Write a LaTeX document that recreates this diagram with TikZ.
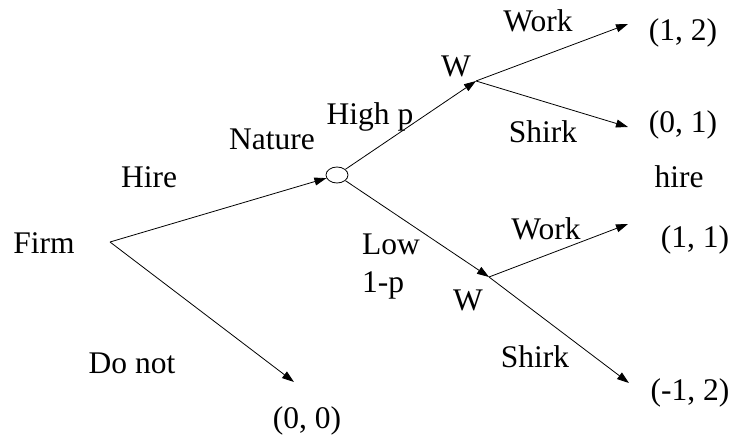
\documentclass[tikz,border=0pt]{standalone}
\usepackage{fontspec}
\setmainfont{Liberation Serif}
\usetikzlibrary{shapes.geometric, arrows.meta, positioning}

\begin{document}
\begin{tikzpicture}[x=1pt,y=-1pt,font=\fontsize{31.5}{38}\selectfont,
  branch/.style={-{Triangle[length=12pt,width=8pt]},line width=0.8pt},
  lbl/.style={inner sep=0pt}]
  \useasboundingbox (0,0) rectangle (734,439);
  % decision points
  \coordinate (firm) at (110,242);
  \node[draw,ellipse,minimum width=22pt,minimum height=16pt,inner sep=0pt,line width=0.8pt] (nature) at (337,175) {};
  \coordinate (whigh) at (476,81);
  \coordinate (wlow) at (489,277);
  % arrow tips
  \coordinate (tdonot) at (294,382);
  \coordinate (thw) at (628,24);
  \coordinate (ths) at (628,127);
  \coordinate (tlw) at (628,224);
  \coordinate (tls) at (629,383);
  % player labels
  \node[lbl] (firmlbl) at (44,243) {Firm};
  \node[lbl] (naturelbl) at (272,139) {Nature};
  \node[lbl] (whighlbl) at (456,66) {W};
  \node[lbl] (wlowlbl) at (468,300) {W};
  % move labels
  \node[lbl] (hire) at (149,177) {Hire};
  \node[lbl] (donot) at (132,363) {Do not};
  \node[lbl] (highp) at (370,117) {High p};
  \node[lbl,align=left,anchor=west] (lowp) at (362,267) {Low\\1-p};
  \node[lbl] (hwork) at (538,21) {Work};
  \node[lbl] (hshirk) at (543,132) {Shirk};
  \node[lbl] (lwork) at (546,229) {Work};
  \node[lbl] (lshirk) at (535,357) {Shirk};
  \node[lbl] (hirenote) at (679,177) {hire};
  % payoffs
  \node[lbl] (p00) at (307,421) {(0, 0)};
  \node[lbl] (p12) at (683,33) {(1, 2)};
  \node[lbl] (p01) at (683,125) {(0, 1)};
  \node[lbl] (p11) at (695,240) {(1, 1)};
  \node[lbl] (pm12) at (690,393) {(-1, 2)};
  % branches
  \draw[branch] (firm) -- (nature);
  \draw[branch] (firm) -- (tdonot);
  \draw[branch] (nature) -- (whigh);
  \draw[branch] (nature) -- (wlow);
  \draw[branch] (whigh) -- (thw);
  \draw[branch] (whigh) -- (ths);
  \draw[branch] (wlow) -- (tlw);
  \draw[branch] (wlow) -- (tls);
\end{tikzpicture}
\end{document}
